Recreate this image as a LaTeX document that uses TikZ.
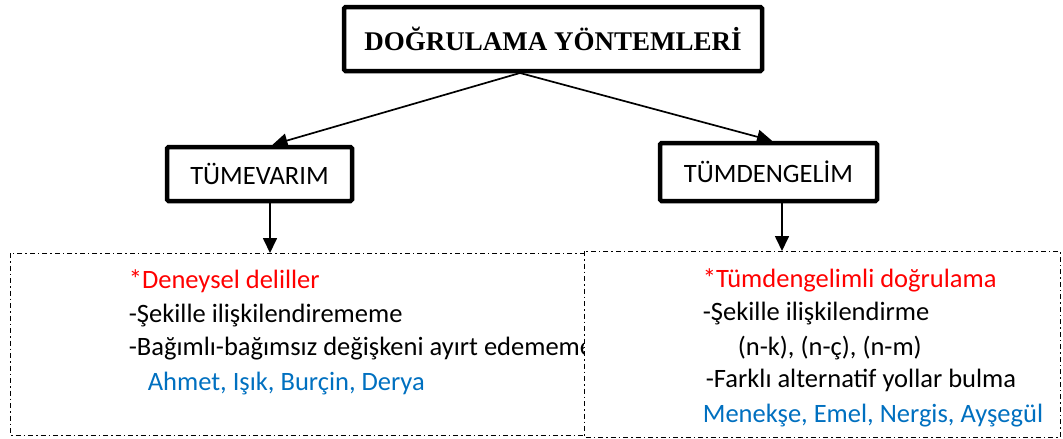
\documentclass[tikz,border=0pt]{standalone}
\usepackage{fontspec}
\setmainfont{Carlito}
\newfontfamily\titlefont{Liberation Serif}
\usetikzlibrary{arrows.meta,calc}
\definecolor{namesblue}{RGB}{0,112,192}

\tikzset{
  heavybox/.style = {draw, line width = 4.5pt, rounded corners = 1.5pt, inner sep = 0pt},
  dashbox/.style  = {draw, line width = 0.9pt, dash pattern = on 5pt off 3pt on 1.5pt off 3pt},
  line/.style     = {anchor = base west, inner sep = 0pt, font = \fontsize{26.5}{30}\selectfont}
}

\begin{document}
\begin{tikzpicture}[x = 1pt, y = -1pt, > = {Triangle[length = 15pt, width = 14pt]}, line width = 1.7pt]
  \useasboundingbox (0,0) rectangle (1063,439);
  % title and the two methods
  \node[heavybox, minimum width = 418pt, minimum height = 64pt,
        font = \titlefont\bfseries\fontsize{27}{30}\selectfont] (title) at (553,39) {DOĞRULAMA YÖNTEMLERİ};
  \node[heavybox, minimum width = 185pt, minimum height = 54pt,
        font = \fontsize{26.5}{30}\selectfont] (induct) at (259.5,174) {TÜMEVARIM};
  \node[heavybox, minimum width = 217pt, minimum height = 58pt,
        font = \fontsize{26.5}{30}\selectfont] (deduct) at (768.5,172) {TÜMDENGELİM};

  % left panel
  \coordinate (leftnw) at (10,253);
  \coordinate (leftse) at (584,435);
  \draw[dashbox] (leftnw) rectangle (leftse);
  \node[line, red]       (ind1) at (128,288) {*Deneysel deliller};
  \node[line]            (ind2) at (128,322) {-Şekille ilişkilendirememe};
  \node[line]            (ind3) at (128,355) {-Bağımlı-bağımsız değişkeni ayırt edememe};
  \node[line, namesblue] (ind4) at (147,390) {Ahmet, Işık, Burçin, Derya};

  % right panel
  \coordinate (rightnw) at (584,251);
  \coordinate (rightse) at (1060,437);
  \draw[dashbox, fill = white] (rightnw) rectangle (rightse);
  \node[line, red]       (ded1) at (702,287) {*Tümdengelimli doğrulama};
  \node[line]            (ded2) at (702,320) {-Şekille ilişkilendirme};
  \node[line]            (ded3) at (737,355) {(n-k), (n-ç), (n-m)};
  \node[line]            (ded4) at (705,387) {-Farklı alternatif yollar bulma};
  \node[line, namesblue] (ded5) at (702,422) {Menekşe, Emel, Nergis, Ayşegül};

  % connectors
  \coordinate (split) at (520,73);
  \coordinate (indin)  at ($(induct.north) + (13,0)$);
  \coordinate (dedin)  at ($(deduct.north) + (3.5,0)$);
  \coordinate (indout) at ($(induct.south) + (10.5,0)$);
  \coordinate (dedout) at ($(deduct.south) + (13.5,0)$);
  \draw[->] (split) -- (indin);
  \draw[->] (split) -- (dedin);
  \draw[->] (indout) -- (indout |- leftnw);
  \draw[->] (dedout) -- (dedout |- rightnw);
\end{tikzpicture}
\end{document}
